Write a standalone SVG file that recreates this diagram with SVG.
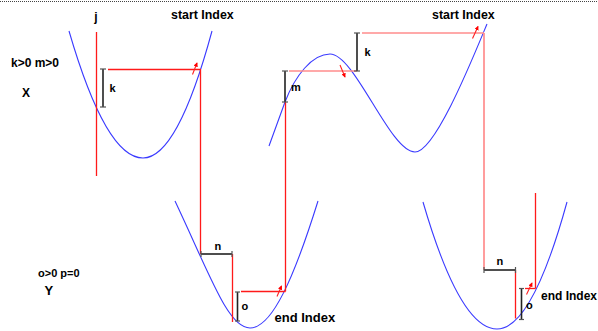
<svg xmlns="http://www.w3.org/2000/svg" width="598" height="331" viewBox="0 0 598 331">
<defs>
<marker id="ah" viewBox="0 0 6 6" refX="5" refY="3" markerWidth="4" markerHeight="4" orient="auto">
<path d="M0,0 L6,3 L0,6 z" fill="#ff0000"/>
</marker>
</defs>
<style>
.t{font-family:"Liberation Sans",Arial,sans-serif;font-weight:bold;fill:#000}
.curve{fill:none;stroke:#3a3aff;stroke-width:1.1}
.red{fill:none;stroke:#ff1a1a;stroke-width:1.3}
.pink{fill:none;stroke:#ff8c8c;stroke-width:1.7}
.br{fill:none;stroke:#222;stroke-width:1.6}
.cap{fill:none;stroke:#555;stroke-width:1.2}
.arr{fill:none;stroke:#ff2020;stroke-width:1.1;marker-end:url(#ah)}
</style>
<rect width="598" height="331" fill="#fff"/>
<line x1="0" y1="1.5" x2="598" y2="1.5" stroke="#444" stroke-width="1" stroke-dasharray="1 1"/>

<g id="curves">
<path class="curve" d="M69,31 Q106,158 143,158 Q177.5,158 212,31"/>
<path class="curve" d="M269,146 L285,102 C295,76 312,54 330,54 C355,54 390,152 415,152 C435,152 472,60 487,24"/>
<path class="curve" d="M175,201 C210,275 228,328 250,328 C272,328 294,278 318,201"/>
<path class="curve" d="M423,202 Q460,329 497,329 Q532,329 567,202"/>
</g>

<g id="connectors">
<line class="red" x1="96.5" y1="32" x2="96.5" y2="176"/>
<line class="red" x1="108" y1="69.5" x2="201" y2="69.5"/>
<line class="red" x1="200.5" y1="69.5" x2="200.5" y2="254"/>
<line class="red" x1="232.5" y1="254" x2="232.5" y2="322"/>
<line class="red" x1="241" y1="291.5" x2="285.5" y2="291.5"/>
<line class="red" x1="285.5" y1="102" x2="285.5" y2="291.5"/>
<line class="pink" x1="289" y1="71" x2="357" y2="71"/>
<line class="pink" x1="362" y1="33" x2="484" y2="33"/>
<line class="pink" x1="484" y1="33" x2="484" y2="270"/>
<line class="red" x1="515.5" y1="270" x2="515.5" y2="318.5"/>
<line class="red" x1="525" y1="288.5" x2="535.5" y2="288.5"/>
<line class="red" x1="535.5" y1="193" x2="535.5" y2="288.5"/>
<line class="arr" x1="192.5" y1="74.5" x2="197" y2="63"/>
<line class="arr" x1="277" y1="296.5" x2="281.5" y2="286"/>
<line class="arr" x1="340" y1="65" x2="345" y2="77"/>
<line class="arr" x1="472.5" y1="38.5" x2="478" y2="26.5"/>
<line class="arr" x1="526.5" y1="294.5" x2="532" y2="283"/>
</g>

<g id="bracket-k1">
<line class="br" x1="103" y1="69" x2="103" y2="107"/>
<line class="cap" x1="100" y1="69" x2="106" y2="69"/>
<line class="cap" x1="100" y1="107" x2="106" y2="107"/>
</g>
<g id="bracket-m">
<line class="br" x1="285" y1="71" x2="285" y2="102"/>
<line class="cap" x1="282" y1="71" x2="288" y2="71"/>
<line class="cap" x1="282" y1="102" x2="288" y2="102"/>
</g>
<g id="bracket-k2">
<line class="br" x1="357" y1="33" x2="357" y2="71"/>
<line class="cap" x1="354" y1="33" x2="360" y2="33"/>
<line class="cap" x1="354" y1="71" x2="360" y2="71"/>
</g>
<g id="bracket-n1">
<line class="br" x1="201" y1="254" x2="232" y2="254"/>
<line class="cap" x1="201" y1="251" x2="201" y2="257"/>
<line class="cap" x1="232" y1="251" x2="232" y2="257"/>
</g>
<g id="bracket-o1">
<line class="br" x1="237.5" y1="292" x2="237.5" y2="321"/>
<line class="cap" x1="235" y1="292" x2="240" y2="292"/>
<line class="cap" x1="235" y1="321" x2="240" y2="321"/>
</g>
<g id="bracket-n2">
<line class="br" x1="484" y1="270" x2="515.5" y2="270"/>
<line class="cap" x1="484" y1="267" x2="484" y2="273"/>
<line class="cap" x1="515.5" y1="267" x2="515.5" y2="273"/>
</g>
<g id="bracket-o2">
<line class="br" x1="521.5" y1="288.5" x2="521.5" y2="319.5"/>
<line class="cap" x1="519" y1="288.5" x2="524" y2="288.5"/>
<line class="cap" x1="519" y1="319.5" x2="524" y2="319.5"/>
</g>

<g id="labels">
<text class="t" x="96" y="21" font-size="12" text-anchor="middle">j</text>
<text class="t" x="171" y="19" font-size="12.4">start Index</text>
<text class="t" x="432" y="18.5" font-size="12.4">start Index</text>
<text class="t" x="11" y="66.5" font-size="12">k&gt;0 m&gt;0</text>
<text class="t" x="22" y="97" font-size="12">X</text>
<text class="t" x="109.5" y="92" font-size="11">k</text>
<text class="t" x="291" y="90.5" font-size="11">m</text>
<text class="t" x="364.5" y="56" font-size="11">k</text>
<text class="t" x="214.5" y="249.5" font-size="11">n</text>
<text class="t" x="241.5" y="310" font-size="11">o</text>
<text class="t" x="496.5" y="265" font-size="11">n</text>
<text class="t" x="526" y="308.5" font-size="11">o</text>
<text class="t" x="274.5" y="322" font-size="13">end Index</text>
<text class="t" x="541" y="299.5" font-size="12">end Index</text>
<text class="t" x="38" y="276.5" font-size="11">o&gt;0 p=0</text>
<text class="t" x="44.5" y="295" font-size="13">Y</text>
</g>
</svg>
